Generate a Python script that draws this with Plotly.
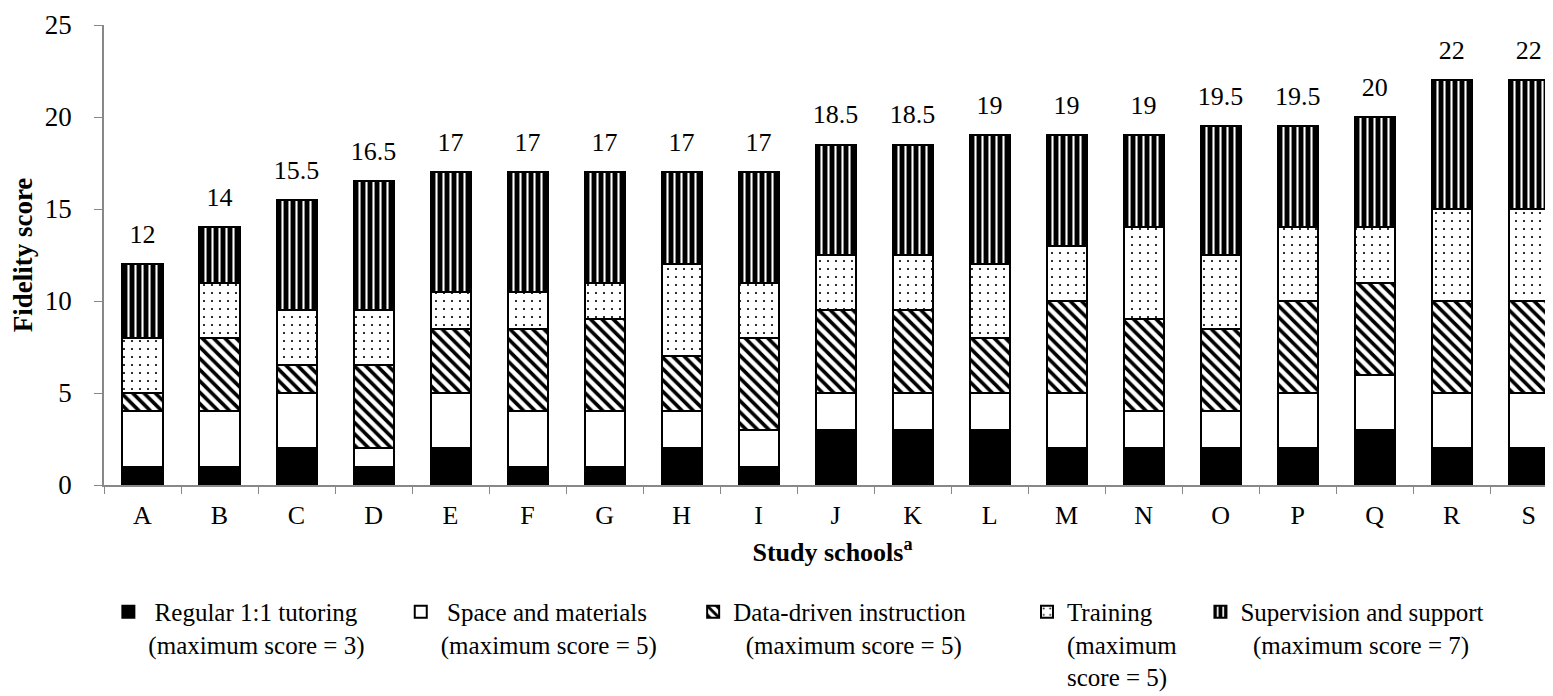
import plotly.graph_objects as go

schools = list("ABCDEFGHIJKLMNOPQRS")
tutoring = [1, 1, 2, 1, 2, 1, 1, 2, 1, 3, 3, 3, 2, 2, 2, 2, 3, 2, 2]
space = [3, 3, 3, 1, 3, 3, 3, 2, 2, 2, 2, 2, 3, 2, 2, 3, 3, 3, 3]
data_driven = [1, 4, 1.5, 4.5, 3.5, 4.5, 5, 3, 5, 4.5, 4.5, 3, 5, 5, 4.5, 5, 5, 5, 5]
training = [3, 3, 3, 3, 2, 2, 2, 5, 3, 3, 3, 4, 3, 5, 4, 4, 3, 5, 5]
supervision = [4, 3, 6, 7, 6.5, 6.5, 6, 5, 6, 6, 6, 7, 6, 5, 7, 5.5, 6, 7, 7]

NB = "\u00a0"
names = [
    NB + "Regular 1:1 tutoring<br>(maximum score = 3)" + NB * 5,
    NB + "Space and materials<br>(maximum score = 5)" + NB * 5,
    "Data-driven instruction" + NB * 9 + "<br>" + NB * 2 + "(maximum score = 5)",
    "Training<br>(maximum" + NB * 3 + "<br>score = 5)",
    "Supervision and support<br>" + NB * 2 + "(maximum score = 7)",
]

FONT = "Liberation Serif"

patterns = [
    dict(shape="", bgcolor="black", fgcolor="black"),
    dict(shape="", bgcolor="white", fgcolor="white"),
    dict(shape="\\", bgcolor="white", fgcolor="black", size=8, solidity=0.45, fillmode="replace"),
    dict(shape=".", bgcolor="white", fgcolor="black", size=8, solidity=0.06, fillmode="replace"),
    dict(shape="|", bgcolor="black", fgcolor="white", size=7, solidity=0.3, fillmode="replace"),
]
colors = ["black", "white", "white", "white", "black"]
series = [tutoring, space, data_driven, training, supervision]

fig = go.Figure()
for name, vals, pat, col in zip(names, series, patterns, colors):
    fig.add_trace(go.Bar(
        x=schools, y=vals, name=name, width=0.52,
        marker=dict(color=col, pattern=pat, line=dict(color="black", width=2)),
    ))

totals = [sum(v) for v in zip(*series)]
fig.add_trace(go.Scatter(
    x=schools, y=totals, mode="text+markers",
    marker=dict(size=22, opacity=0),
    text=[f"{t:g}" for t in totals], textposition="top center",
    textfont=dict(family=FONT, size=26, color="black"),
    showlegend=False, hoverinfo="skip",
))

fig.update_layout(
    width=1553, height=696,
    barmode="stack",
    plot_bgcolor="white", paper_bgcolor="white",
    font=dict(family=FONT, size=26, color="black"),
    margin=dict(l=96, r=0, t=17, b=219, autoexpand=False),
    xaxis=dict(
        range=[-0.5, 18.42], automargin=False,
        showline=True, linecolor="#888888", linewidth=1.5,
        ticks="outside", tickson="boundaries", ticklen=7, tickcolor="#888888",
        tickfont=dict(family=FONT, size=26), ticklabelstandoff=6,
        title=dict(text="<b>Study schools<sup>a</sup></b>", font=dict(family=FONT, size=26), standoff=14),
    ),
    yaxis=dict(
        range=[0, 25], dtick=5, automargin=False,
        showline=True, linecolor="#888888", linewidth=1.5,
        ticks="outside", ticklen=8, tickcolor="#888888",
        showgrid=False, zeroline=False,
        tickfont=dict(family=FONT, size=27), ticklabelstandoff=17,
        title=dict(text="<b>Fidelity score</b>", font=dict(family=FONT, size=27), standoff=6),
    ),
    legend=dict(
        orientation="h", x=0.003, xanchor="left", y=-0.226, yanchor="top",
        font=dict(family=FONT, size=25), traceorder="normal",
        valign="top", itemwidth=30, tracegroupgap=0,
    ),
)

fig.write_html("out.html")
